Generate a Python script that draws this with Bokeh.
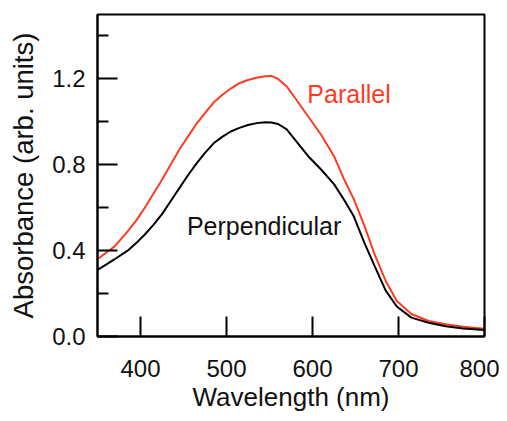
from bokeh.plotting import figure
from bokeh.models import FixedTicker, Range1d, Label
from bokeh.embed import file_html
from bokeh.resources import INLINE

wavelength = [350, 360, 370, 385, 395, 405, 415, 425, 435, 445, 455, 465, 475, 485, 495, 505,
              515, 525, 535, 545, 552, 560, 570, 580, 595, 610, 625, 637, 648, 660, 672,
              685, 698, 715, 735, 755, 775, 800]
parallel = [0.36, 0.39, 0.42, 0.49, 0.54, 0.60, 0.665, 0.73, 0.80, 0.87, 0.93, 0.99, 1.04, 1.09,
            1.125, 1.155, 1.18, 1.195, 1.205, 1.212, 1.214, 1.20, 1.165, 1.11, 1.025, 0.94, 0.84,
            0.73, 0.64, 0.52, 0.385, 0.26, 0.165, 0.105, 0.072, 0.057, 0.045, 0.036]
perpendicular = [0.31, 0.335, 0.36, 0.40, 0.435, 0.475, 0.52, 0.57, 0.63, 0.69, 0.75, 0.805,
                 0.855, 0.90, 0.93, 0.955, 0.972, 0.985, 0.994, 0.998, 0.997, 0.99, 0.965, 0.915,
                 0.84, 0.778, 0.71, 0.635, 0.56, 0.44, 0.33, 0.215, 0.14, 0.088, 0.064, 0.048,
                 0.037, 0.030]

x_ticks = [400, 500, 600, 700, 800]
y_ticks = [0.0, 0.4, 0.8, 1.2]
y_minor = [0.2, 0.6, 1.0, 1.4]

FONT = "Liberation Sans"
RED = "#ff3b1f"

p = figure(frame_width=387, frame_height=322, output_backend="svg", toolbar_location=None,
           x_range=Range1d(350, 800), y_range=Range1d(0, 1.5),
           min_border_left=97, min_border_right=15, min_border_top=14, min_border_bottom=70)
p.xgrid.visible = False
p.ygrid.visible = False
p.outline_line_color = "black"
p.outline_line_width = 2
p.background_fill_color = "white"
p.border_fill_color = "white"

p.line(wavelength, parallel, line_color=RED, line_width=2)
p.line(wavelength, perpendicular, line_color="black", line_width=2)

for ax in (p.xaxis[0], p.yaxis[0]):
    ax.axis_line_width = 2
    ax.axis_line_color = "black"
    ax.major_tick_line_width = 2
    ax.minor_tick_line_width = 2
    ax.major_tick_out = 0
    ax.minor_tick_out = 0
    ax.major_tick_in = 20
    ax.major_label_text_font = FONT
    ax.major_label_text_font_size = "24px"
    ax.major_label_text_color = "#111111"
    ax.axis_label_text_font = FONT
    ax.axis_label_text_font_style = "normal"
    ax.axis_label_text_color = "#111111"

p.xaxis.axis_label_text_font_size = "26px"
p.yaxis.axis_label_text_font_size = "27.5px"
p.xaxis.ticker = FixedTicker(ticks=x_ticks, minor_ticks=[])
p.yaxis.ticker = FixedTicker(ticks=y_ticks, minor_ticks=y_minor)
p.yaxis.minor_tick_in = 11
p.xaxis.major_label_standoff = 23
p.yaxis.major_label_standoff = 12
p.yaxis.major_label_overrides = {0: "0.0", 0.4: "0.4", 0.8: "0.8", 1.2: "1.2"}
p.xaxis.axis_label = "Wavelength (nm)"
p.yaxis.axis_label = "Absorbance (arb. units)"
p.xaxis.axis_label_standoff = 2
p.yaxis.axis_label_standoff = 10

p.add_layout(Label(x=594, y=1.13, text="Parallel", text_color=RED, text_font=FONT,
                   text_font_size="25px", text_baseline="alphabetic"))
p.add_layout(Label(x=454, y=0.515, text="Perpendicular", text_color="#111111", text_font=FONT,
                   text_font_size="25px", text_baseline="alphabetic"))

open("out.html", "w").write(file_html(p, INLINE))
